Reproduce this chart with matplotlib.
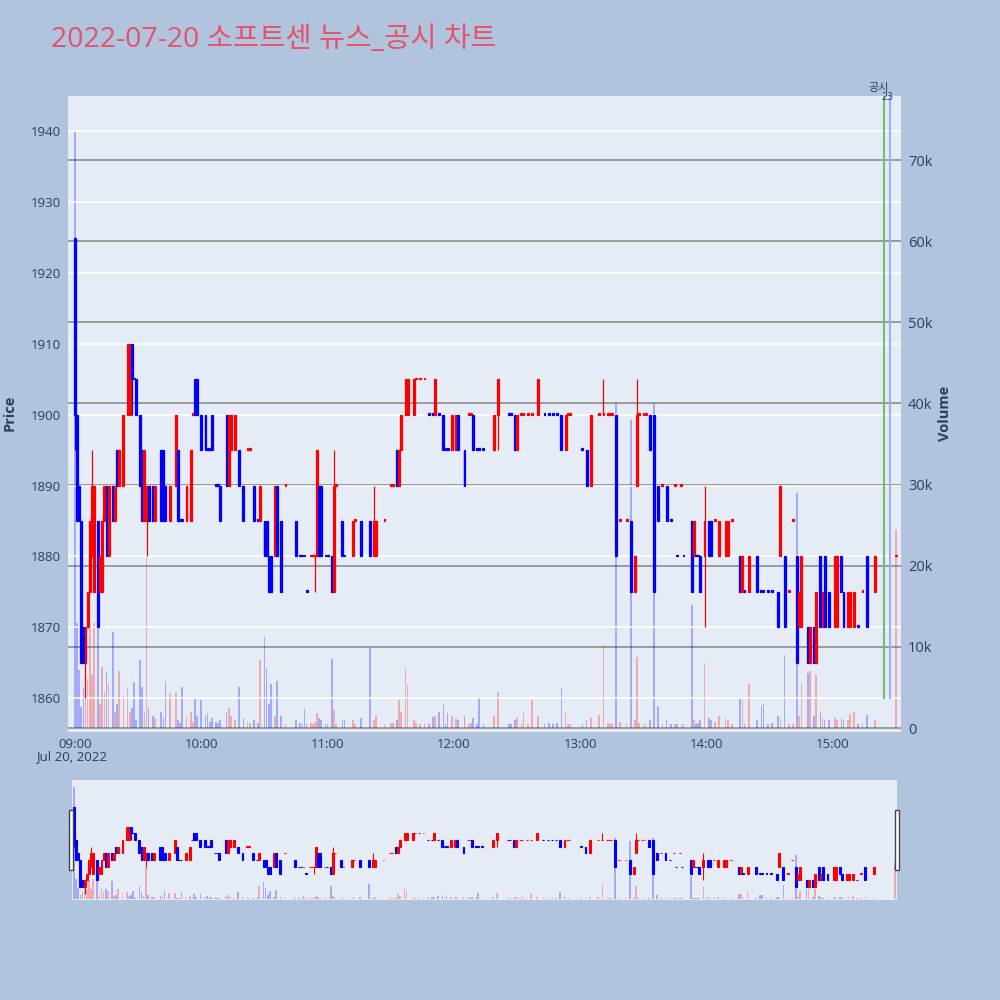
import matplotlib
matplotlib.use("Agg")
import matplotlib.pyplot as plt
from matplotlib.patches import Rectangle
import numpy as np

plt.rcParams['font.family'] = ['Open Sans', 'Noto Sans CJK KR', 'DejaVu Sans']

# minute bars, minutes counted from 09:00 (price in KRW, volume in thousands)
minute = [0, 1, 2, 3, 4, 5, 6, 7, 8, 9, 11, 12, 13, 14, 15, 16, 18, 19, 20, 21, 23, 25, 26, 27, 28, 29,
          31, 32, 33, 34, 35, 37, 38, 41, 42, 43, 45, 48, 49, 50, 51, 53, 55, 56, 57, 58, 60, 62, 63, 64,
          65, 67, 68, 69, 72, 73, 74, 76, 78, 80, 82, 83, 85, 87, 88, 90, 91, 92, 93, 95, 96,
          98, 100, 105, 107, 108, 109, 110, 112, 113, 114, 115, 116, 117, 119, 120, 122, 123, 124, 127,
          128, 132, 133, 136, 140, 142, 143, 147, 150, 151, 153, 154, 155, 157, 158, 161, 162, 164, 166,
          168, 170, 171, 173, 175, 176, 177, 179, 181, 182, 185, 187, 188, 189, 191, 192, 194,
          199, 201, 206, 207, 209, 210, 212, 213, 215, 217, 220, 223, 225, 227, 229, 231, 233, 234, 235,
          241, 243, 245, 249, 251, 253, 254, 255, 257, 259, 262, 264, 266, 267, 268, 270, 271, 273, 275,
          277, 279, 281, 283, 285, 286, 288, 289,
          293, 294, 295, 296, 297, 299, 301, 302, 304, 306, 309, 310, 312, 316, 317, 318, 320, 324, 326,
          327, 329, 331, 334, 335, 337, 339, 341, 343, 344, 345, 348, 349, 351, 352, 354, 355, 356, 358,
          361, 362, 364, 365, 367, 368, 370, 372, 374, 376, 380, 390]
open_p = [1925, 1900, 1890, 1885, 1870, 1865, 1870, 1875, 1880, 1875, 1885, 1875, 1875, 1885, 1890, 1880, 1890, 1885, 1895, 1890, 1890, 1900, 1900, 1910, 1905, 1905,
          1900, 1895, 1885, 1885, 1890, 1890, 1885, 1895, 1895, 1890, 1885, 1890, 1895, 1885, 1885, 1885, 1885, 1900, 1905, 1905, 1900, 1900, 1895, 1895,
          1900, 1890, 1890, 1890, 1900, 1890, 1895, 1895, 1895, 1890, 1895, 1895, 1890, 1885, 1885, 1885, 1885, 1880, 1880, 1880, 1890,
          1885, 1890, 1885, 1880, 1880, 1880, 1875, 1880, 1880, 1880, 1880, 1890, 1890, 1880, 1880, 1880, 1875, 1890, 1885,
          1880, 1880, 1885, 1885, 1885, 1880, 1880, 1885, 1890, 1890, 1895, 1890, 1895, 1900, 1900, 1900, 1905, 1905, 1905,
          1900, 1900, 1900, 1900, 1900, 1895, 1895, 1895, 1895, 1900, 1895, 1900, 1900, 1900, 1895, 1895, 1895,
          1895, 1900, 1900, 1900, 1900, 1895, 1900, 1900, 1900, 1900, 1900, 1900, 1900, 1900, 1900, 1900, 1895, 1900, 1900,
          1895, 1895, 1890, 1900, 1900, 1900, 1900, 1900, 1900, 1885, 1885, 1885, 1875, 1890, 1900, 1900, 1900, 1900, 1900,
          1890, 1890, 1890, 1885, 1890, 1880, 1890, 1880,
          1885, 1880, 1880, 1880, 1880, 1880, 1885, 1885, 1885, 1880, 1880, 1880, 1885, 1880, 1875, 1875, 1875, 1880, 1875,
          1875, 1875, 1875, 1875, 1880, 1880, 1875, 1885, 1880, 1870, 1870, 1870, 1865, 1870, 1865, 1880, 1870, 1880, 1875,
          1870, 1870, 1880, 1875, 1870, 1870, 1870, 1870, 1875, 1880, 1875, 1880]
high_p = [1925, 1900, 1890, 1885, 1870, 1870, 1875, 1885, 1895, 1890, 1885, 1880, 1885, 1890, 1890, 1890, 1890, 1890, 1895, 1895, 1900, 1910, 1910, 1910, 1905, 1905,
          1900, 1895, 1895, 1890, 1890, 1890, 1890, 1895, 1895, 1890, 1890, 1900, 1895, 1885, 1885, 1890, 1895, 1900, 1905, 1905, 1900, 1900, 1895, 1895,
          1900, 1890, 1890, 1890, 1900, 1900, 1900, 1900, 1895, 1890, 1895, 1895, 1890, 1885, 1890, 1885, 1885, 1880, 1880, 1890, 1890,
          1885, 1890, 1885, 1880, 1880, 1880, 1875, 1880, 1880, 1880, 1895, 1890, 1890, 1880, 1880, 1880, 1895, 1890, 1885,
          1880, 1885, 1885, 1885, 1885, 1890, 1885, 1885, 1890, 1890, 1895, 1895, 1900, 1905, 1905, 1905, 1905, 1905, 1905,
          1900, 1900, 1905, 1900, 1900, 1895, 1895, 1900, 1900, 1900, 1895, 1900, 1900, 1900, 1895, 1895, 1895,
          1900, 1905, 1900, 1900, 1900, 1900, 1900, 1900, 1900, 1900, 1905, 1900, 1900, 1900, 1900, 1900, 1900, 1900, 1900,
          1895, 1895, 1900, 1900, 1905, 1900, 1900, 1900, 1900, 1885, 1885, 1885, 1880, 1905, 1900, 1900, 1900, 1900, 1900,
          1890, 1890, 1890, 1885, 1890, 1880, 1890, 1880,
          1885, 1885, 1880, 1880, 1880, 1890, 1885, 1885, 1885, 1885, 1885, 1885, 1885, 1880, 1880, 1875, 1880, 1880, 1875,
          1875, 1875, 1875, 1875, 1890, 1880, 1875, 1885, 1880, 1875, 1880, 1870, 1870, 1870, 1875, 1880, 1875, 1880, 1875,
          1880, 1880, 1880, 1875, 1875, 1875, 1875, 1870, 1875, 1880, 1880, 1880]
low_p = [1895, 1885, 1885, 1865, 1865, 1860, 1870, 1875, 1880, 1875, 1870, 1875, 1875, 1885, 1880, 1880, 1885, 1885, 1890, 1890, 1890, 1900, 1900, 1900, 1905, 1900,
         1890, 1885, 1885, 1880, 1885, 1885, 1885, 1885, 1885, 1885, 1885, 1890, 1885, 1885, 1885, 1885, 1885, 1900, 1900, 1900, 1895, 1895, 1895, 1895,
         1895, 1890, 1890, 1885, 1890, 1890, 1895, 1895, 1890, 1885, 1895, 1895, 1885, 1885, 1885, 1880, 1880, 1875, 1875, 1880, 1880,
         1875, 1890, 1880, 1880, 1880, 1880, 1875, 1880, 1880, 1875, 1880, 1880, 1880, 1880, 1880, 1875, 1875, 1890, 1880,
         1880, 1880, 1885, 1880, 1880, 1880, 1880, 1885, 1890, 1890, 1890, 1890, 1895, 1900, 1900, 1900, 1905, 1905, 1905,
         1900, 1900, 1900, 1900, 1895, 1895, 1895, 1895, 1895, 1895, 1890, 1900, 1900, 1895, 1895, 1895, 1895,
         1895, 1895, 1900, 1900, 1895, 1895, 1900, 1900, 1900, 1900, 1900, 1900, 1900, 1900, 1900, 1895, 1895, 1900, 1900,
         1895, 1890, 1890, 1900, 1900, 1900, 1900, 1900, 1880, 1885, 1885, 1875, 1875, 1890, 1900, 1900, 1900, 1895, 1875,
         1885, 1890, 1885, 1885, 1890, 1880, 1890, 1880,
         1875, 1880, 1880, 1880, 1875, 1870, 1880, 1880, 1885, 1880, 1880, 1880, 1885, 1875, 1875, 1875, 1875, 1875, 1875,
         1875, 1875, 1875, 1870, 1880, 1870, 1875, 1885, 1865, 1870, 1870, 1865, 1865, 1865, 1865, 1870, 1870, 1870, 1870,
         1870, 1870, 1875, 1870, 1870, 1870, 1870, 1870, 1875, 1870, 1875, 1880]
close_p = [1900, 1885, 1885, 1865, 1865, 1870, 1875, 1885, 1890, 1890, 1870, 1880, 1885, 1890, 1880, 1890, 1885, 1890, 1890, 1895, 1900, 1910, 1910, 1905, 1905, 1900,
           1890, 1885, 1895, 1890, 1885, 1885, 1890, 1885, 1885, 1885, 1890, 1900, 1885, 1885, 1885, 1890, 1895, 1900, 1900, 1900, 1895, 1895, 1895, 1895,
           1895, 1890, 1890, 1885, 1890, 1900, 1900, 1900, 1890, 1885, 1895, 1895, 1885, 1885, 1890, 1880, 1880, 1875, 1875, 1890, 1880,
           1875, 1890, 1880, 1880, 1880, 1880, 1875, 1880, 1880, 1880, 1895, 1880, 1880, 1880, 1880, 1875, 1890, 1890, 1880,
           1880, 1885, 1885, 1880, 1880, 1885, 1885, 1885, 1890, 1890, 1890, 1895, 1900, 1905, 1905, 1905, 1905, 1905, 1905,
           1900, 1900, 1905, 1900, 1895, 1895, 1895, 1900, 1900, 1895, 1890, 1900, 1900, 1895, 1895, 1895, 1895,
           1900, 1905, 1900, 1900, 1895, 1900, 1900, 1900, 1900, 1900, 1905, 1900, 1900, 1900, 1900, 1895, 1900, 1900, 1900,
           1895, 1890, 1900, 1900, 1900, 1900, 1900, 1900, 1880, 1885, 1885, 1875, 1880, 1900, 1900, 1900, 1900, 1895, 1875,
           1885, 1890, 1885, 1885, 1890, 1880, 1890, 1880,
           1875, 1885, 1880, 1880, 1875, 1885, 1880, 1880, 1885, 1885, 1885, 1885, 1885, 1875, 1880, 1875, 1880, 1875, 1875,
           1875, 1875, 1875, 1870, 1890, 1870, 1875, 1885, 1865, 1875, 1880, 1865, 1870, 1865, 1875, 1870, 1875, 1870, 1870,
           1880, 1880, 1875, 1870, 1875, 1875, 1875, 1870, 1875, 1870, 1880, 1880]
volume_k = [73.6, 13.0, 7.2, 2.6, 5.0, 9.0, 6.0, 12.4, 6.5, 13.0, 22.3, 3.0, 7.5, 4.5, 7.0, 5.5, 11.8, 2.0, 3.0, 7.0, 4.0, 5.0, 2.0, 2.5, 5.7, 1.0,
            8.4, 5.0, 2.0, 21.0, 2.5, 1.5, 1.2, 2.0, 1.2, 5.7, 4.3, 4.3, 1.0, 0.6, 5.0, 1.5, 2.0, 0.8, 3.6, 1.5, 3.5, 1.5, 1.8, 0.8,
            1.2, 0.8, 0.6, 1.0, 2.0, 2.5, 1.5, 1.0, 5.0, 1.2, 0.8, 0.6, 1.0, 0.6, 8.4, 11.2, 7.4, 3.0, 5.4, 1.5, 5.8,
            1.5, 0.5, 1.0, 0.6, 0.5, 2.3, 0.5, 0.6, 0.5, 0.8, 1.8, 1.2, 1.0, 0.5, 0.5, 8.5, 2.2, 0.5, 1.0,
            1.0, 1.0, 0.5, 1.2, 9.9, 1.0, 1.5, 0.5, 0.6, 0.6, 1.0, 3.5, 2.0, 7.4, 5.3, 1.0, 0.6, 0.5, 0.6,
            0.5, 1.3, 1.5, 2.0, 2.8, 0.5, 1.8, 1.5, 1.2, 1.0, 1.5, 0.5, 0.6, 1.2, 0.5, 3.8, 0.5,
            1.5, 4.4, 0.5, 0.5, 1.0, 1.2, 0.6, 1.9, 0.5, 3.5, 1.5, 0.5, 0.6, 0.5, 0.6, 4.9, 1.8, 0.5, 0.5,
            0.5, 1.0, 1.2, 1.6, 10.2, 0.6, 0.5, 0.5, 40.0, 0.8, 0.6, 38.0, 1.0, 8.8, 0.6, 0.5, 0.6, 1.0, 40.0,
            2.7, 0.5, 1.0, 0.5, 0.5, 0.5, 0.5, 0.5,
            15.2, 1.0, 0.5, 0.6, 1.0, 8.0, 1.2, 1.0, 0.8, 1.5, 1.2, 1.0, 0.5, 3.6, 3.5, 0.5, 5.4, 1.0, 2.7,
            3.0, 0.5, 0.6, 1.5, 1.2, 9.0, 0.5, 0.5, 29.0, 1.5, 5.5, 6.8, 7.0, 1.5, 6.5, 2.0, 1.2, 1.0, 1.0,
            1.2, 1.0, 1.2, 1.0, 1.0, 1.7, 2.0, 0.5, 0.6, 1.6, 1.0, 24.4]

price_ticks = [1860, 1870, 1880, 1890, 1900, 1910, 1920, 1930, 1940]
volume_ticks = [0, 10, 20, 30, 40, 50, 60, 70]
volume_labels = ['0', '10k', '20k', '30k', '40k', '50k', '60k', '70k']
hour_ticks = [0, 60, 120, 180, 240, 300, 360]
hour_labels = ['09:00', '10:00', '11:00', '12:00', '13:00', '14:00', '15:00']
notice_minutes = [384, 387]   # 공시 markers (15:24, 15:27)

BG = '#B0C4DE'
PLOT_BG = '#E5ECF6'
TXT = '#2a3f5f'
UP = '#FF0000'
DOWN = '#0000FF'

t = np.array(minute, dtype=float)
o = np.array(open_p, dtype=float)
h = np.array(high_p, dtype=float)
lo = np.array(low_p, dtype=float)
c = np.array(close_p, dtype=float)
v = np.array(volume_k, dtype=float)

# plotly style direction: flat candles take direction from previous close
up = []
prev_c, prev_up = None, True
for oo, cc in zip(o, c):
    if cc > oo:
        d = True
    elif cc < oo:
        d = False
    elif prev_c is not None and cc != prev_c:
        d = cc > prev_c
    else:
        d = prev_up
    up.append(d)
    prev_c, prev_up = cc, d
up = np.array(up)
cols = np.where(up, UP, DOWN)
vol_cols = [(1, 0, 0, 0.28) if u else (0, 0, 1, 0.28) for u in up]

PMIN, PMAX = 1855.2, 1945.0
VMIN, VMAX = -0.49, 77.9


def draw_candles(ax, body_w, lw):
    ax.vlines(t, lo, h, colors=cols, linewidth=lw, zorder=3)
    body = np.maximum(np.abs(c - o), 0.25)
    ax.bar(t, body, bottom=np.minimum(o, c), width=body_w, color=cols,
           edgecolor=cols, linewidth=lw, zorder=4)


def draw_volume(ax):
    ax.bar(t, v, width=0.8, color=vol_cols, linewidth=0, zorder=2)


fig = plt.figure(figsize=(10, 10), dpi=100)
fig.patch.set_facecolor(BG)

# main chart: volume axis underneath, price axis on top
rect = [0.068, 0.268, 0.833, 0.636]
ax_v = fig.add_axes(rect)
ax_p = ax_v.twinx()
ax_p.yaxis.tick_left()
ax_v.yaxis.tick_right()
ax_v.set_facecolor(PLOT_BG)
ax_p.patch.set_visible(False)

draw_volume(ax_v)
ax_v.set_ylim(VMIN, VMAX)
ax_v.set_yticks(volume_ticks)
ax_v.set_yticklabels(volume_labels)
ax_v.grid(axis='y', color='#8c8c8c', linewidth=1.2)
ax_v.set_axisbelow(True)

draw_candles(ax_p, 0.9, 0.9)
for xm, col in zip(notice_minutes, ['#6fbf6f', '#9fb0ee']):
    ax_p.plot([xm, xm], [1860, PMAX], color=col, linewidth=1.5, zorder=5)
ax_p.set_ylim(PMIN, PMAX)
ax_p.set_yticks(price_ticks)
ax_p.grid(axis='y', color='white', linewidth=1.1)
ax_p.set_axisbelow(True)

for ax in (ax_v, ax_p):
    ax.set_xlim(-3.3, 392.3)
    for s in ax.spines.values():
        s.set_visible(False)
    ax.tick_params(length=0, colors=TXT, labelsize=9.5, pad=4)
ax_v.set_xticks(hour_ticks)
ax_v.set_xticklabels(hour_labels)
ax_p.tick_params(axis='y', pad=5)
ax_v.tick_params(axis='y', pad=5, labelsize=10.5)

fig.text(0.072, 0.243, 'Jul 20, 2022', ha='center', va='center', color=TXT, fontsize=9.5)
fig.text(0.010, 0.587, 'Price', rotation=90, ha='center', va='center', color=TXT,
         fontsize=10.5, fontweight='bold')
fig.text(0.945, 0.587, 'Volume', rotation=90, ha='center', va='center', color=TXT,
         fontsize=10.5, fontweight='bold')
fig.text(0.879, 0.911, '공시', ha='center', va='center', color=TXT, fontsize=8)
fig.text(0.887, 0.903, '23', ha='center', va='center', color=TXT, fontsize=7.5)

fig.text(0.051, 0.960, '2022-07-20 소프트센 뉴스_공시 차트', ha='left', va='center',
         color='#E6526A', fontsize=20.5)

# range slider
srect = [0.072, 0.100, 0.825, 0.120]
ax_s = fig.add_axes(srect)
ax_s2 = ax_s.twinx()
ax_s.set_facecolor(PLOT_BG)
ax_s2.patch.set_visible(False)
draw_volume(ax_s)
draw_candles(ax_s2, 0.9, 0.8)
ax_s.set_ylim(VMIN, VMAX)
ax_s2.set_ylim(PMIN, PMAX)
for ax in (ax_s, ax_s2):
    ax.set_xlim(-1.0, 391.0)
    ax.set_xticks([])
    ax.set_yticks([])
    for s in ax.spines.values():
        s.set_visible(False)

for hx in (0.069, 0.895):
    fig.patches.append(Rectangle((hx, 0.130), 0.004, 0.060, transform=fig.transFigure,
                                 facecolor='white', edgecolor='#444444', linewidth=1.0))

fig.savefig('out.png', dpi=100, facecolor=BG)
